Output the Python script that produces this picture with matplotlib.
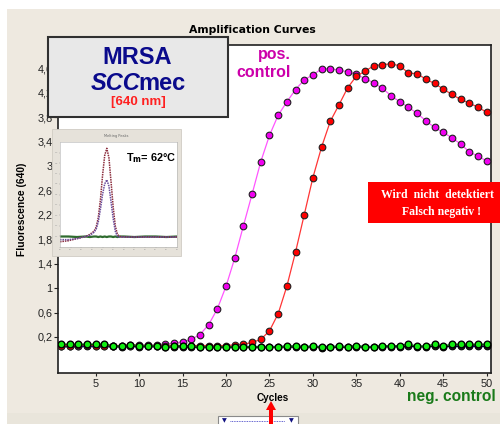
import matplotlib
matplotlib.use("Agg")
import matplotlib.pyplot as plt
from matplotlib.patches import Rectangle, Polygon

# ---------------- data ----------------
cycles = list(range(1, 51))
pos_control = [0.06, 0.06, 0.06, 0.07, 0.07, 0.07, 0.06, 0.06, 0.06, 0.07,
               0.07, 0.07, 0.08, 0.10, 0.12, 0.16, 0.24, 0.40, 0.66, 1.03,
               1.49, 2.02, 2.54, 3.07, 3.50, 3.83, 4.05, 4.25, 4.41, 4.49,
               4.59, 4.59, 4.57, 4.54, 4.50, 4.43, 4.36, 4.27, 4.15, 4.05,
               3.96, 3.86, 3.74, 3.63, 3.55, 3.46, 3.36, 3.23, 3.16, 3.08]
sample = [0.06, 0.06, 0.07, 0.07, 0.06, 0.06, 0.06, 0.06, 0.07, 0.06,
          0.06, 0.06, 0.06, 0.06, 0.06, 0.06, 0.06, 0.06, 0.06, 0.06,
          0.07, 0.08, 0.11, 0.16, 0.30, 0.58, 1.03, 1.59, 2.20, 2.81,
          3.31, 3.73, 4.00, 4.28, 4.47, 4.55, 4.64, 4.66, 4.67, 4.64,
          4.52, 4.51, 4.42, 4.35, 4.26, 4.17, 4.09, 4.03, 3.96, 3.88]
neg_control = [0.08, 0.08, 0.08, 0.08, 0.08, 0.08, 0.06, 0.05, 0.07, 0.06,
               0.06, 0.06, 0.04, 0.05, 0.06, 0.05, 0.04, 0.04, 0.04, 0.04,
               0.04, 0.04, 0.04, 0.04, 0.04, 0.04, 0.05, 0.05, 0.04, 0.05,
               0.03, 0.04, 0.05, 0.04, 0.06, 0.04, 0.04, 0.06, 0.05, 0.06,
               0.08, 0.05, 0.05, 0.08, 0.05, 0.08, 0.08, 0.08, 0.08, 0.08]
neg_dark = [0.05, 0.05, 0.06, 0.06, 0.06, 0.06, 0.05, 0.04, 0.05, 0.04,
            0.05, 0.05, 0.03, 0.04, 0.04, 0.03, 0.03, 0.03, 0.03, 0.03,
            0.03, 0.03, 0.03, 0.03, 0.03, 0.03, 0.04, 0.03, 0.03, 0.04,
            0.02, 0.03, 0.03, 0.03, 0.04, 0.03, 0.03, 0.04, 0.04, 0.04,
            0.05, 0.04, 0.04, 0.05, 0.04, 0.05, 0.05, 0.06, 0.05, 0.05]
blank_line = [0.05] * 50

y_ticks = [0.2, 0.6, 1.0, 1.4, 1.8, 2.2, 2.6, 3.0, 3.4, 3.8, 4.2, 4.6]
y_tick_labels = [f"{v:g}".replace(".", ",") for v in y_ticks]
x_ticks = [5, 10, 15, 20, 25, 30, 35, 40, 45, 50]

# inset melting-peak data (temperature in degC, -dF/dT normalised)
melt_temp = [40, 44, 48, 52, 54, 56, 57, 58, 59, 60, 61, 62, 63, 64, 65,
             66, 67, 68, 70, 75, 80, 85, 90, 95]
melt_red = [0.05, 0.06, 0.08, 0.10, 0.12, 0.15, 0.19, 0.28, 0.45, 0.68,
            0.87, 0.94, 0.85, 0.62, 0.38, 0.20, 0.12, 0.10, 0.095, 0.095,
            0.095, 0.095, 0.095, 0.095]
melt_purple = [0.07, 0.07, 0.08, 0.10, 0.11, 0.14, 0.17, 0.24, 0.36, 0.50,
               0.60, 0.64, 0.58, 0.43, 0.27, 0.15, 0.10, 0.095, 0.095, 0.095,
               0.095, 0.095, 0.095, 0.095]
melt_green = [0.10, 0.10, 0.095, 0.10, 0.095, 0.10, 0.10, 0.095, 0.10, 0.095,
              0.10, 0.095, 0.10, 0.10, 0.095, 0.10, 0.095, 0.10, 0.10, 0.095,
              0.10, 0.10, 0.095, 0.10]

# ---------------- figure ----------------
W, H = 500, 424
fig = plt.figure(figsize=(W / 100, H / 100), dpi=100, facecolor="white")
TICK_FONT = ["Liberation Sans Narrow", "Liberation Sans"]


def fx(px):
    return px / W


def fy(py):
    return 1 - py / H


def frect(x0, y0, x1, y1, **kw):
    return Rectangle((fx(x0), fy(y1)), fx(x1) - fx(x0), fy(y0) - fy(y1),
                     transform=fig.transFigure, **kw)


fig.patches.append(frect(7, 9, 500, 424, facecolor="#EEE9E0", edgecolor="none", zorder=-2))
fig.patches.append(frect(7, 413, 500, 424, facecolor="#E9E5DB", edgecolor="none", zorder=-1))

ax = fig.add_axes([fx(57.5), fy(373), fx(491) - fx(57.5), fy(45) - fy(373)], zorder=1)
ax.set_facecolor("white")
ax.set_xlim(0.6, 50.5)
ax.set_ylim(-0.39, 4.98)

ms = 4.8
ax.plot(cycles, blank_line, color="#0000EE", lw=1.0, zorder=2)
ax.plot(cycles, neg_dark, color="black", lw=0.8, marker="o", ms=ms,
        mfc="#202020", mec="black", mew=0.8, zorder=3)
ax.plot(cycles, pos_control, color="#FF55FF", lw=0.9, marker="o", ms=ms,
        mfc="#F000F0", mec="#202020", mew=0.8, zorder=4)
ax.plot(cycles, sample, color="#FF3535", lw=0.9, marker="o", ms=ms,
        mfc="#FF0000", mec="#202020", mew=0.8, zorder=4)
ax.plot(cycles, neg_control, color="#009900", lw=1.0, marker="o", ms=ms,
        mfc="#11EE11", mec="black", mew=1.0, zorder=5)

ax.set_xticks(x_ticks)
ax.set_xticklabels([str(t) for t in x_ticks], fontsize=7.8, family=TICK_FONT)
ax.set_yticks(y_ticks)
ax.set_yticklabels(y_tick_labels, fontsize=7.8, family=TICK_FONT)
ax.tick_params(axis="y", length=3, width=0.8, pad=0.5, colors="#202020")
ax.tick_params(axis="x", length=2, width=0.8, pad=2, colors="#202020")
for s in ax.spines.values():
    s.set_linewidth(1.2)
    s.set_color("#202020")

fig.text(fx(252), fy(30), "Amplification Curves", ha="center", va="center",
         fontsize=7.8, fontweight="bold", family="DejaVu Sans")
fig.text(fx(22), fy(209), "Fluorescence (640)", ha="center", va="center",
         rotation=90, fontsize=7.4, fontweight="bold", family="Liberation Sans")
fig.text(fx(273), fy(398), "Cycles", ha="center", va="center",
         fontsize=7.2, fontweight="bold", family="Liberation Sans")

# pos./neg. control labels
fig.text(fx(291), fy(59), "pos.", ha="right", va="baseline", fontsize=11.5,
         fontweight="bold", color="#CC00AA", family="Liberation Sans", zorder=6)
fig.text(fx(291), fy(77), "control", ha="right", va="baseline", fontsize=11.5,
         fontweight="bold", color="#CC00AA", family="Liberation Sans", zorder=6)
fig.text(fx(407), fy(401), "neg. control", ha="left", va="baseline", fontsize=11.2,
         fontweight="bold", color="#1A7A1A", family="Liberation Sans", zorder=6)

# MRSA box
fig.patches.append(frect(48, 37, 228, 117, facecolor="#E8E8E8", edgecolor="#303030",
                         lw=1.5, zorder=10))
fig.text(fx(137), fy(64), "MRSA", ha="center", va="baseline", fontsize=17,
         fontweight="bold", color="#0A0A8C", family="Liberation Sans", zorder=11)
fig.text(fx(140), fy(90), "SCC", ha="right", va="baseline", fontsize=17,
         fontweight="bold", style="italic", color="#0A0A8C", family="Liberation Sans", zorder=11)
fig.text(fx(138), fy(90), "mec", ha="left", va="baseline", fontsize=17,
         fontweight="bold", color="#0A0A8C", family="Liberation Sans", zorder=11)
fig.text(fx(138), fy(105), "[640 nm]", ha="center", va="baseline", fontsize=9.5,
         fontweight="bold", color="#FF2020", family="Liberation Sans", zorder=11)

# inset melting peaks
fig.patches.append(frect(52, 129, 181, 256, facecolor="#E6E2DA", edgecolor="#D0CCC4",
                         lw=0.6, zorder=10))
ins = fig.add_axes([fx(60), fy(247), fx(177) - fx(60), fy(142) - fy(247)], zorder=11)
ins.set_facecolor("white")
ins.plot(melt_temp, melt_green, color="#2E6B2E", lw=1.6)
ins.plot(melt_temp, melt_red, color="#8B2C3C", lw=1.1, ls=(0, (1, 0.6)))
ins.plot(melt_temp, melt_purple, color="#6A4C9C", lw=1.1, ls=(0, (1, 0.6)))
ins.set_xlim(40, 95)
ins.set_ylim(0, 1)
ins.set_xticks([40, 45, 50, 55, 60, 65, 70, 75, 80, 85, 90, 95])
ins.set_yticks([0.1, 0.2, 0.3, 0.4, 0.5, 0.6, 0.7, 0.8, 0.9])
ins.tick_params(length=1, width=0.3, labelsize=1.5, colors="#999999", pad=0.5)
for s in ins.spines.values():
    s.set_linewidth(0.4)
    s.set_color("#B0B0B0")
fig.text(fx(116), fy(136), "Melting Peaks", ha="center", va="center", fontsize=2.5,
         color="#666666", zorder=12)
fig.text(fx(126), fy(161), r"T$_\mathbf{m}$= 62°C", ha="left", va="baseline",
         fontsize=7.8, fontweight="bold", color="black", family="Liberation Sans", zorder=12)

# red warning box
fig.patches.append(frect(368, 182, 500, 223, facecolor="#FF0000", edgecolor="none", zorder=10))
fig.text(fx(437.5), fy(198), "Wird  nicht  detektiert", ha="center", va="baseline",
         fontsize=8.5, fontweight="bold", color="white", family="Liberation Serif", zorder=11)
fig.text(fx(442), fy(215), "Falsch negativ !", ha="center", va="baseline",
         fontsize=8.5, fontweight="bold", color="white", family="Liberation Serif", zorder=11)

# bottom widget
fig.patches.append(frect(218, 416, 298, 426, facecolor="white", edgecolor="#8A8A8A",
                         lw=0.8, zorder=10))
fig.text(fx(224), fy(420.5), "▼", ha="center", va="center", fontsize=4.5,
         color="#101080", zorder=11)
fig.text(fx(291), fy(420.5), "▼", ha="center", va="center", fontsize=4.5,
         color="#101080", zorder=11)
fig.lines.append(plt.Line2D([fx(230), fx(285)], [fy(420.5), fy(420.5)],
                            transform=fig.transFigure, color="#3030C0", lw=0.6,
                            ls=(0, (1, 1)), zorder=11))

# red arrow
arrow_px = [(271, 401), (266, 410), (269, 410), (269, 424), (273, 424), (273, 410), (276, 410)]
fig.patches.append(Polygon([(fx(x), fy(y)) for x, y in arrow_px], closed=True,
                           transform=fig.transFigure, facecolor="#FF0000",
                           edgecolor="none", zorder=12))

fig.savefig("out.png", dpi=100, facecolor=fig.get_facecolor())
